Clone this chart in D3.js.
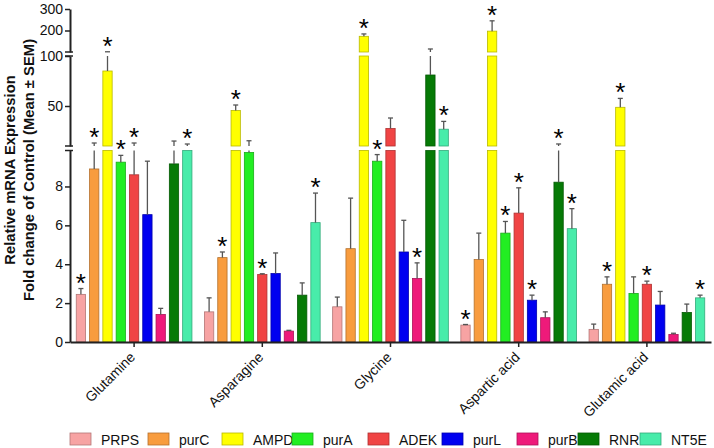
<!DOCTYPE html>
<html>
<head>
<meta charset="utf-8">
<script src="https://cdn.jsdelivr.net/npm/d3@7"></script>
<style>
  body { margin: 0; background: #fff; }
  svg { display: block; font-family: "Liberation Sans", Arial, sans-serif; }
</style>
</head>
<body>
<svg id="chart" width="714" height="448"></svg>
<script>
// ---------- DATA ----------
const groups = ["Glutamine", "Asparagine", "Glycine", "Aspartic acid", "Glutamic acid"];
const genes  = ["PRPS", "purC", "AMPD", "purA", "ADEK", "purL", "purB", "RNR", "NT5E"];

// mean fold change per gene, in group order
const PRPS = [2.45, 1.55, 1.81, 0.87, 0.65];
const purC = [8.9, 4.34, 4.8, 4.24, 2.97];
const AMPD = [85, 45.5, 173, 197, 48.7];
const purA = [9.25, 9.75, 9.3, 5.6, 2.5];
const ADEK = [8.6, 3.47, 27.5, 6.63, 2.97];
const purL = [6.55, 3.52, 4.63, 2.15, 1.9];
const purB = [1.42, 0.56, 3.27, 1.25, 0.39];
const RNR  = [9.16, 2.41, 81, 8.22, 1.52];
const NT5E = [9.9, 6.14, 26.8, 5.83, 2.27];

// SEM per gene
const PRPS_sem = [0.3, 0.72, 0.5, 0.03, 0.27];
const purC_sem = [4.1, 0.29, 2.6, 1.36, 0.38];
const AMPD_sem = [16, 5.5, 11, 48, 8.9];
const purA_sem = [0.35, 5.5, 0.34, 0.6, 0.85];
const ADEK_sem = [4.4, 0.04, 10.5, 1.3, 0.16];
const purL_sem = [2.75, 1.06, 1.63, 0.26, 0.7];
const purB_sem = [0.31, 0.04, 0.8, 0.3, 0.06];
const RNR_sem  = [5.8, 0.63, 33, 3.8, 0.43];
const NT5E_sem = [2.1, 1.52, 7.8, 1.03, 0.14];

// significance (1 = asterisk)
const PRPS_sig = [1, 0, 0, 1, 0];
const purC_sig = [1, 1, 0, 0, 1];
const AMPD_sig = [1, 1, 1, 1, 1];
const purA_sig = [1, 0, 1, 1, 0];
const ADEK_sig = [1, 1, 0, 1, 1];
const purL_sig = [0, 0, 0, 1, 0];
const purB_sig = [0, 0, 1, 0, 0];
const RNR_sig  = [0, 0, 0, 1, 0];
const NT5E_sig = [1, 1, 1, 1, 1];

// y tick labels for each axis segment
const ticksBottom = [0, 2, 4, 6, 8];
const ticksMiddle = [50, 100];
const ticksTop    = [200, 300];

const yLabel1 = "Relative mRNA Expression";
const yLabel2 = "Fold change of Control (Mean \u00B1 SEM)";

// ---------- STYLE ----------
const colors = ["#f7a3a3", "#f89c3e", "#ffff00", "#22ee22", "#f04444", "#0000f0", "#ee1a7a", "#067a06", "#48ecaa"];
const legendX = [70, 148, 222, 292, 368, 442, 517, 578, 640];

const means = [PRPS, purC, AMPD, purA, ADEK, purL, purB, RNR, NT5E];
const sems  = [PRPS_sem, purC_sem, AMPD_sem, purA_sem, ADEK_sem, purL_sem, purB_sem, RNR_sem, NT5E_sem];
const sigs  = [PRPS_sig, purC_sig, AMPD_sig, purA_sig, ADEK_sig, purL_sig, purB_sig, RNR_sig, NT5E_sig];

const data = [];
groups.forEach((g, gi) => genes.forEach((gene, si) => {
  data.push({group: g, gene, gi, si, v: means[si][gi], e: sems[si][gi], sig: sigs[si][gi]});
}));

const svg = d3.select("#chart");
const axisX = 70, axisRight = 711, baseY = 342;

// broken y axis: three linear segments
const segs = [
  {scale: d3.scaleLinear().domain([0, 9.85]).range([baseY, 150.5]), ticks: ticksBottom, labelX: 63},
  {scale: d3.scaleLinear().domain([10, 100]).range([146, 56]), ticks: ticksMiddle, labelX: 63},
  {scale: d3.scaleLinear().domain([100, 300]).range([52, 9]), ticks: ticksTop, labelX: 63}
];

const x0 = d3.scaleBand().domain(groups).range([axisX, axisRight]).padding(0);
const x1 = d3.scaleBand().domain(genes).range([0, x0.bandwidth()]).paddingInner(0.3).paddingOuter(0.47);

const plot = svg.append("g");

// bars, drawn piecewise in each axis segment
segs.forEach(seg => {
  const [d0, d1] = seg.scale.domain();
  data.forEach(d => {
    const lo = Math.max(0, d0), hi = Math.min(d.v, d1);
    if (hi <= lo) return;
    const c = colors[d.si];
    plot.append("rect")
      .attr("x", x0(d.group) + x1(d.gene))
      .attr("width", x1.bandwidth())
      .attr("y", seg.scale(hi))
      .attr("height", seg.scale(lo) - seg.scale(hi))
      .attr("fill", c)
      .attr("stroke", d3.color(c).darker(0.9))
      .attr("stroke-width", 0.8);
  });
});

// error bars (upward), split across segments
function yOf(v) {
  for (let i = segs.length - 1; i >= 0; i--) {
    const [d0, d1] = segs[i].scale.domain();
    if (v >= d0) return segs[i].scale(Math.min(v, d1));
  }
  return baseY;
}
data.forEach(d => {
  const top = d.v + d.e;
  const cx = x0(d.group) + x1(d.gene) + x1.bandwidth() / 2;
  segs.forEach(seg => {
    const [d0, d1] = seg.scale.domain();
    const lo = Math.max(d.v, d0), hi = Math.min(top, d1);
    if (hi <= lo) return;
    plot.append("line")
      .attr("x1", cx).attr("x2", cx)
      .attr("y1", seg.scale(lo)).attr("y2", seg.scale(hi))
      .attr("stroke", "#555").attr("stroke-width", 1.3);
  });
  const yt = yOf(top);
  plot.append("line")
    .attr("x1", cx - 2.5).attr("x2", cx + 2.5)
    .attr("y1", yt).attr("y2", yt)
    .attr("stroke", "#555").attr("stroke-width", 1.3);
  if (d.sig) {
    plot.append("text")
      .attr("x", cx).attr("y", yt + 3)
      .attr("text-anchor", "middle")
      .attr("font-size", 26)
      .attr("fill", "#000")
      .text("*");
  }
});

// y axis segments
segs.forEach(seg => {
  const g = svg.append("g").attr("transform", `translate(${axisX},0)`);
  const ax = d3.axisLeft(seg.scale).tickValues(seg.ticks).tickSize(5).tickPadding(0).tickSizeOuter(0);
  g.call(ax);
  g.select(".domain").attr("stroke", "#222").attr("stroke-width", 2);
  g.selectAll(".tick line").attr("stroke", "#222").attr("stroke-width", 1.5);
  g.selectAll(".tick text")
    .attr("x", seg.labelX - axisX)
    .attr("font-size", 14)
    .attr("font-family", "Liberation Sans, Arial, sans-serif")
    .attr("fill", "#111");
});

// break marks on the y axis
[52, 56, 146, 150.5].forEach(y => {
  svg.append("line")
    .attr("x1", axisX - 5).attr("x2", axisX + 3)
    .attr("y1", y).attr("y2", y)
    .attr("stroke", "#222").attr("stroke-width", 1.5);
});

// x axis
const gx = svg.append("g").attr("transform", `translate(0,${baseY})`);
gx.call(d3.axisBottom(x0).tickSize(5).tickSizeOuter(0).tickFormat(""));
gx.select(".domain").attr("stroke", "#222").attr("stroke-width", 2);
gx.selectAll(".tick line").attr("stroke", "#222").attr("stroke-width", 1.5);

groups.forEach(g => {
  const cx = x0(g) + x0.bandwidth() / 2;
  svg.append("text")
    .attr("transform", `translate(${cx + 2},${baseY + 16}) rotate(-45)`)
    .attr("text-anchor", "end")
    .attr("font-size", 14)
    .attr("fill", "#111")
    .text(g);
});

// y axis title
svg.append("text")
  .attr("transform", "translate(15,170) rotate(-90)")
  .attr("text-anchor", "middle")
  .attr("font-size", 14.8)
  .attr("font-weight", "bold")
  .attr("fill", "#111")
  .text(yLabel1);
svg.append("text")
  .attr("transform", "translate(34,170) rotate(-90)")
  .attr("text-anchor", "middle")
  .attr("font-size", 14.8)
  .attr("font-weight", "bold")
  .attr("fill", "#111")
  .text(yLabel2);

// legend
genes.forEach((gene, i) => {
  const lx = legendX[i];
  svg.append("rect")
    .attr("x", lx).attr("y", 433)
    .attr("width", 21).attr("height", 12)
    .attr("fill", colors[i])
    .attr("stroke", d3.color(colors[i]).darker(0.9))
    .attr("stroke-width", 0.8);
  svg.append("text")
    .attr("x", lx + 31).attr("y", 445)
    .attr("font-size", 14)
    .attr("fill", "#111")
    .text(gene);
});
</script>
</body>
</html>
